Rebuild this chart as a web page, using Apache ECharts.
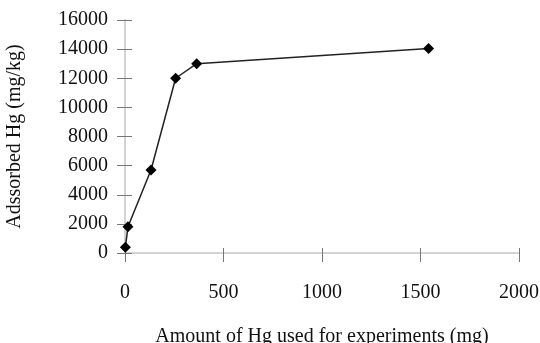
<!DOCTYPE html>
<html>
<head>
<meta charset="utf-8">
<script src="https://cdn.jsdelivr.net/npm/echarts@6/dist/echarts.min.js"></script>
<style>
  html, body { margin: 0; padding: 0; background: #fff; }
  #chart { width: 540px; height: 343px; }
</style>
</head>
<body>
<div id="chart"></div>
<script>
// amount of Hg used (mg) vs adsorbed Hg (mg/kg)
var hgUsed = [2, 15, 132, 257, 364, 1541];
var hgAdsorbed = [400, 1800, 5700, 12000, 13000, 14050];

var font = "'Liberation Serif', 'Times New Roman', serif";
var axisGray = "#d3d3d3";
var tickGray = "#777";

var points = [];
for (var i = 0; i < hgUsed.length; i++) {
  points.push([hgUsed[i], hgAdsorbed[i]]);
}

function plain(v) {
  return String(v);
}

var myChart = echarts.init(document.getElementById("chart"));
var option = {
  animation: false,
  grid: { left: 125, right: 21, top: 20, bottom: 90, outerBoundsMode: "none", containLabel: false },
  xAxis: [
    {
      type: "value",
      min: 0,
      max: 2000,
      interval: 500,
      position: "bottom",
      name: "Amount of Hg used for experiments (mg)",
      nameLocation: "middle",
      nameGap: 74,
      nameTextStyle: { fontFamily: font, fontSize: 20, color: "#111" },
      axisLine: { show: true, lineStyle: { color: axisGray, width: 2 } },
      axisTick: { show: true, length: 9, lineStyle: { color: tickGray } },
      axisLabel: { margin: 30, fontFamily: font, fontSize: 20, color: "#111", formatter: plain },
      splitLine: { show: false }
    },
    {
      // inside half of the crossing ticks
      type: "value",
      min: 0,
      max: 2000,
      interval: 500,
      position: "bottom",
      axisLine: { show: false },
      axisTick: { show: true, inside: true, length: 5, lineStyle: { color: tickGray } },
      axisLabel: { show: false },
      splitLine: { show: false }
    }
  ],
  yAxis: [
    {
      type: "value",
      min: 0,
      max: 16000,
      interval: 2000,
      position: "left",
      name: "Adssorbed Hg (mg/kg)",
      nameLocation: "middle",
      nameGap: 100,
      nameTextStyle: { fontFamily: font, fontSize: 20, color: "#111" },
      axisLine: { show: true, lineStyle: { color: axisGray, width: 2 } },
      axisTick: { show: true, length: 8, lineStyle: { color: tickGray } },
      axisLabel: { margin: 17, fontFamily: font, fontSize: 20, color: "#111", formatter: plain },
      splitLine: { show: false }
    },
    {
      type: "value",
      min: 0,
      max: 16000,
      interval: 2000,
      position: "left",
      axisLine: { show: false },
      axisTick: { show: true, inside: true, length: 7, lineStyle: { color: tickGray } },
      axisLabel: { show: false },
      splitLine: { show: false }
    }
  ],
  series: [
    {
      type: "line",
      data: points,
      symbol: "diamond",
      symbolSize: 11,
      lineStyle: { color: "#222", width: 1.5 },
      itemStyle: { color: "#000" }
    }
  ]
};
myChart.setOption(option);
</script>
</body>
</html>
